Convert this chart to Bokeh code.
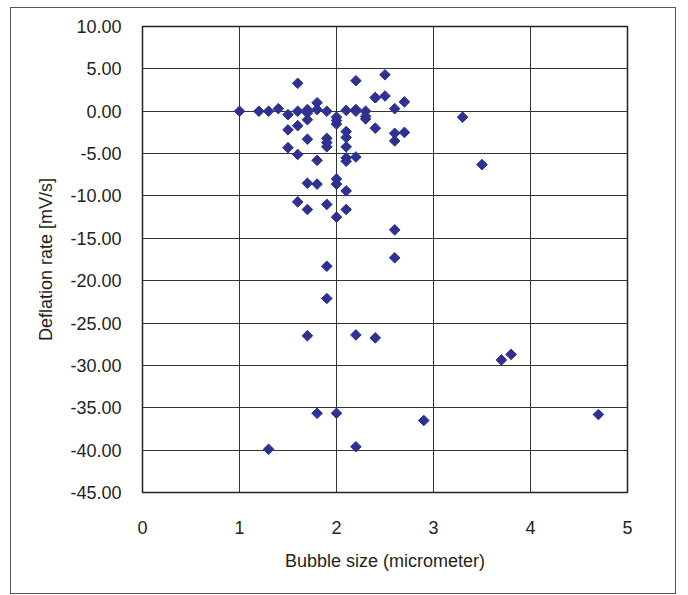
import numpy as np
from bokeh.plotting import figure
from bokeh.models import FixedTicker, NumeralTickFormatter, Range1d
from bokeh.embed import file_html
from bokeh.resources import INLINE

bubble_size = [1.0, 1.2, 1.3, 1.4, 1.5, 1.6, 1.7, 1.7, 1.8, 1.8, 1.9, 2.0, 2.0, 2.0,
               2.1, 2.2, 2.2, 2.3, 2.3, 2.3, 1.6, 2.2, 2.4, 2.5, 2.4, 2.5, 2.6, 2.7,
               1.7, 1.5, 1.6, 2.4, 2.1, 2.1, 2.1, 1.7, 1.9, 1.9, 1.9, 1.5, 1.6, 1.8,
               2.1, 2.1, 2.2, 1.7, 1.8, 2.0, 2.0, 2.1, 1.6, 1.7, 1.9, 2.1, 2.0,
               3.3, 2.6, 2.6, 2.7, 3.5, 2.6, 2.6, 1.9, 1.9, 1.7, 2.2, 2.4,
               1.8, 2.0, 1.3, 2.2, 3.7, 3.8, 2.9, 4.7]
deflation_rate = [0.0, 0.0, 0.0, 0.3, -0.4, 0.0, 0.2, -0.2, 1.0, 0.2, 0.0, -0.7, -1.1, -1.5,
                  0.1, 0.2, 0.0, 0.0, -0.6, -0.9, 3.3, 3.6, 1.6, 4.3, 1.6, 1.8, 0.3, 1.1,
                  -1.0, -2.2, -1.7, -2.0, -2.4, -3.1, -4.2, -3.3, -3.2, -3.7, -4.2, -4.3, -5.1, -5.8,
                  -5.5, -5.9, -5.4, -8.5, -8.6, -8.0, -8.6, -9.4, -10.7, -11.6, -11.0, -11.6, -12.5,
                  -0.7, -2.6, -3.5, -2.5, -6.3, -14.0, -17.3, -18.3, -22.1, -26.5, -26.4, -26.75,
                  -35.65, -35.65, -39.9, -39.6, -29.35, -28.7, -36.5, -35.8]

x_ticks = [0, 1, 2, 3, 4, 5]
y_ticks = [10, 5, 0, -5, -10, -15, -20, -25, -30, -35, -40, -45]

FONT = "Liberation Sans"
TXT = "#231f20"

p = figure(width=666, height=587, output_backend="svg", toolbar_location=None,
           x_range=Range1d(0, 5), y_range=Range1d(-45, 10),
           min_border_left=131, min_border_right=50, min_border_top=18, min_border_bottom=103)
p.margin = (7, 0, 0, 10)
p.styles = {"border": "1.5px solid #555555", "box-sizing": "border-box"}

p.scatter(bubble_size, deflation_rate, marker="square", angle=np.pi / 4, size=7.5,
          fill_color="#2E3192", line_color="#2E3192")

p.outline_line_color = "#222222"
p.outline_line_width = 1.5

for ax in (p.xaxis[0], p.yaxis[0]):
    ax.axis_line_color = None
    ax.major_tick_line_color = None
    ax.minor_tick_line_color = None
    ax.major_label_text_font = FONT
    ax.major_label_text_font_size = "18px"
    ax.major_label_text_color = TXT
    ax.axis_label_text_font = FONT
    ax.axis_label_text_font_size = "18px"
    ax.axis_label_text_font_style = "normal"
    ax.axis_label_text_color = TXT

p.xaxis.ticker = FixedTicker(ticks=x_ticks)
p.yaxis.ticker = FixedTicker(ticks=y_ticks)
p.yaxis.formatter = NumeralTickFormatter(format="0.00")
p.xaxis.axis_label = "Bubble size (micrometer)"
p.yaxis.axis_label = "Deflation rate [mV/s]"
p.xaxis.major_label_standoff = 22
p.yaxis.major_label_standoff = 15
p.xaxis.axis_label_standoff = 14
p.yaxis.axis_label_standoff = 11

p.xgrid.ticker = FixedTicker(ticks=x_ticks)
p.ygrid.ticker = FixedTicker(ticks=y_ticks)
p.grid.grid_line_color = "#333333"
p.grid.grid_line_width = 1

open("out.html", "w").write(file_html(p, INLINE))
